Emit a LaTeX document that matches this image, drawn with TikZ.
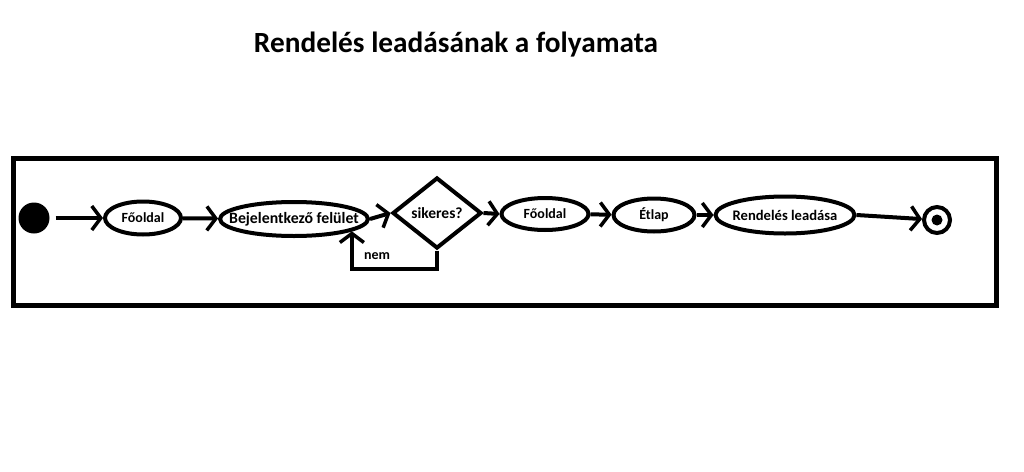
\documentclass[tikz,border=0pt]{standalone}
\usepackage{fontspec}
\setmainfont{Carlito}
\usetikzlibrary{shapes.geometric,arrows.meta}
\begin{document}
\begin{tikzpicture}[x=1pt,y=-1pt,
  every node/.style={font=\bfseries\fontsize{14}{16}\selectfont},
  act/.style={draw,ellipse,line width=4pt,inner sep=0pt},
  dec/.style={draw,diamond,line width=4pt,inner sep=0pt},
  flow/.style={line width=4pt,-{Straight Barb[length=9pt,width=24pt,line width=3.5pt]}},
  plain/.style={line width=4pt}]
\useasboundingbox (0,0) rectangle (1024,471);
\node[font=\bfseries\fontsize{29.3}{32}\selectfont] (title) at (456,45) {Rendelés leadásának a folyamata};
\draw[line width=5pt] (13,158) rectangle (996,305);
\node[circle,fill,inner sep=0pt,minimum size=31pt] (start) at (34,218) {};
\node[act,minimum width=76pt,minimum height=33pt] (f1) at (143,218) {Főoldal};
\node[act,minimum width=148pt,minimum height=34pt,label={[font=\bfseries\fontsize{15.8}{17}\selectfont]center:Bejelentkező felület}] (b) at (294,219) {};
\node[dec,minimum width=89pt,minimum height=71pt,label={[font=\bfseries\fontsize{15.5}{17}\selectfont]center:sikeres?}] (d) at (437,213) {};
\node[act,minimum width=87pt,minimum height=32pt] (f2) at (545,214) {Főoldal};
\node[act,minimum width=81pt,minimum height=33pt] (e) at (654,215) {Étlap};
\node[act,minimum width=139pt,minimum height=37pt,label={[font=\bfseries\fontsize{14.6}{16}\selectfont]center:Rendelés leadása}] (r) at (785,215) {};
\node[circle,draw,line width=4pt,inner sep=0pt,minimum size=26pt] (end) at (937,220) {};
\node[circle,fill,inner sep=0pt,minimum size=11pt] (endin) at (end.center) {};
\node (nem) at (377,256) {nem};
\draw[flow,shorten <=6pt] (start) -- (f1);
\draw[flow] (f1) -- (b);
\draw[flow] (b.east) -- (d.west);
\draw[flow] (d.east) -- (f2.west);
\draw[flow] (f2) -- (e);
\draw[flow] (e) -- (r);
\draw[flow] (r.east) -- (end);
\draw[flow] (d.south) -- ++(0,18) -| (b.-12);
\end{tikzpicture}
\end{document}
